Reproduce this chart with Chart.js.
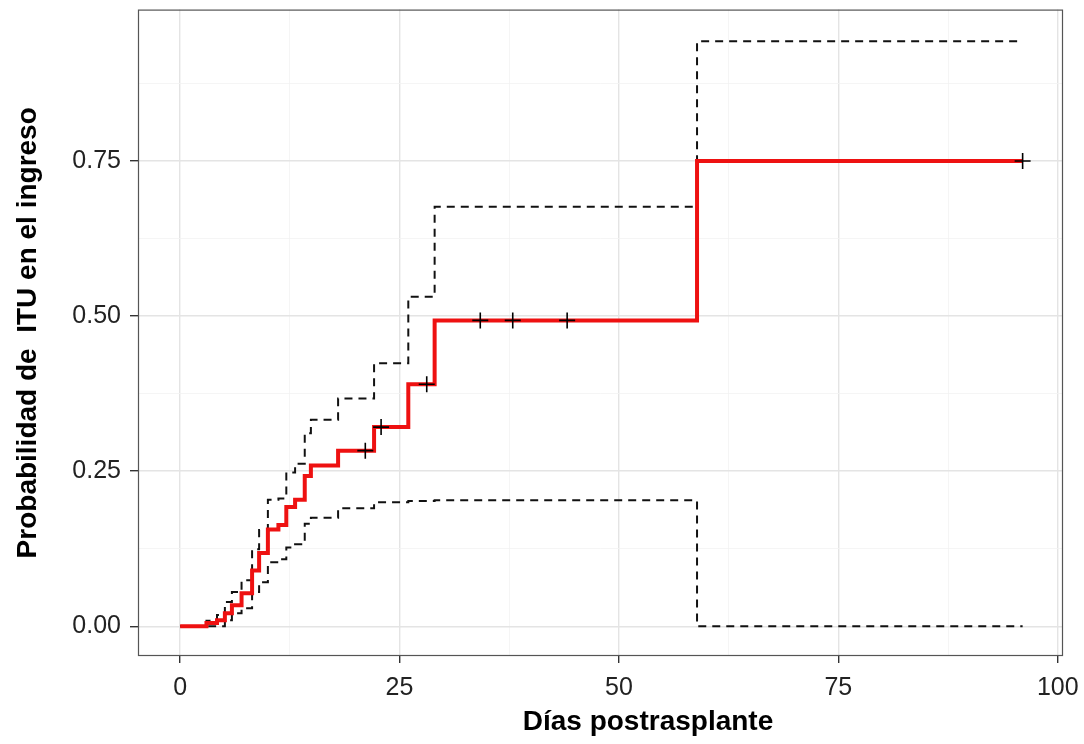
<!DOCTYPE html>
<html lang="es">
<head>
  <meta charset="UTF-8" />
  <title>Probabilidad de ITU en el ingreso</title>
  <script src="https://cdn.jsdelivr.net/npm/chart.js"></script>
  <style>
    body {
      margin: 0;
      background: #fff;
    }
    #grafico {
      width: 1084px;
      height: 744px;
    }
  </style>
</head>
<body>
  <div id="grafico">
    <canvas id="curva" width="1084" height="744"></canvas>
  </div>

  <script>
    // Kaplan-Meier (1 - S) con IC 95%: día del evento y valor tras el escalón
    const dias  = [0, 3.0, 4.2, 5.1, 5.9, 7.0, 8.2, 9.0, 10.0, 11.2, 12.1, 13.1, 14.2, 14.9, 18.0, 22.1, 26.0, 29.0, 58.9, 96];
    const prob  = [0, 0.005, 0.0097, 0.021, 0.034, 0.053, 0.090, 0.118, 0.156, 0.163, 0.192, 0.204, 0.242, 0.259, 0.283, 0.321, 0.390, 0.493, 0.750, 0.750];
    const icSup = [0, 0.009, 0.018, 0.039, 0.055, 0.074, 0.124, 0.155, 0.204, 0.206, 0.248, 0.262, 0.311, 0.333, 0.367, 0.424, 0.531, 0.676, 0.943, 0.943];
    const icInf = [0, 0, 0, 0.0097, 0.021, 0.029, 0.055, 0.071, 0.103, 0.108, 0.127, 0.132, 0.165, 0.175, 0.190, 0.200, 0.202, 0.203, 0, 0];

    // censuras
    const censDias = [21.1, 22.9, 28.1, 34.2, 37.9, 44.1, 96];
    const censProb = [0.283, 0.321, 0.390, 0.493, 0.493, 0.493, 0.750];

    const marcasX = [0, 12.5, 25, 37.5, 50, 62.5, 75, 87.5, 100];
    const marcasY = [0, 0.125, 0.25, 0.375, 0.5, 0.625, 0.75, 0.875];

    const tituloX = 'Días postrasplante';
    const tituloY = 'Probabilidad de  ITU en el ingreso';

    const puntos = (xs, ys) => xs.map((x, i) => ({ x: x, y: ys[i] }));
    const esMayorX = v => v % 25 === 0;
    const esMayorY = v => Math.abs(v * 4 - Math.round(v * 4)) < 1e-9;

    const fuente = '"Liberation Sans", Arial, Helvetica, sans-serif';

    // borde del panel y título del eje x
    const marco = {
      id: 'marco',
      afterDraw(chart) {
        const a = chart.chartArea;
        const ctx = chart.ctx;
        ctx.save();
        ctx.strokeStyle = '#555';
        ctx.lineWidth = 1.2;
        ctx.strokeRect(a.left + 0.5, a.top + 0.5, a.right - a.left - 1, a.bottom - a.top - 1);

        ctx.fillStyle = '#000';
        ctx.font = 'bold 28px ' + fuente;
        ctx.textAlign = 'center';
        ctx.textBaseline = 'middle';
        ctx.fillText(tituloX, 648, 722);
        ctx.restore();
      }
    };

    const discontinua = {
      showLine: true,
      stepped: true,
      borderColor: '#111',
      borderWidth: 2,
      borderDash: [8, 6],
      pointRadius: 0
    };

    new Chart(document.getElementById('curva'), {
      type: 'scatter',
      data: {
        datasets: [
          {
            label: 'Censura',
            data: puntos(censDias, censProb),
            pointStyle: 'cross',
            pointRadius: 8,
            borderColor: '#000',
            borderWidth: 1.6,
            showLine: false
          },
          {
            label: 'Probabilidad',
            data: puntos(dias, prob),
            showLine: true,
            stepped: true,
            borderColor: '#ee1111',
            borderWidth: 4,
            pointRadius: 0
          },
          Object.assign({ label: 'IC superior', data: puntos(dias, icSup) }, discontinua),
          Object.assign({ label: 'IC inferior', data: puntos(dias, icInf) }, discontinua)
        ]
      },
      options: {
        responsive: false,
        animation: false,
        layout: { padding: { top: 8, right: 21, left: 0, bottom: 0 } },
        plugins: {
          legend: { display: false },
          tooltip: { enabled: false }
        },
        scales: {
          x: {
            type: 'linear',
            min: -4.8,
            max: 100.6,
            afterBuildTicks: s => { s.ticks = marcasX.map(v => ({ value: v })); },
            afterFit: s => { s.height = 88; s.paddingLeft = 0; s.paddingRight = 0; },
            border: { display: false },
            grid: {
              color: c => esMayorX(c.tick.value) ? '#e4e4e4' : '#f2f2f2',
              lineWidth: c => esMayorX(c.tick.value) ? 1.4 : 0.8,
              tickColor: c => esMayorX(c.tick.value) ? '#333' : 'rgba(0,0,0,0)',
              tickLength: 7
            },
            ticks: {
              autoSkip: false,
              maxRotation: 0,
              padding: 10,
              color: '#222',
              font: { family: fuente, size: 25 },
              callback: v => esMayorX(v) ? String(v) : ''
            },
            title: { display: false }
          },
          y: {
            type: 'linear',
            min: -0.048,
            max: 0.994,
            afterBuildTicks: s => { s.ticks = marcasY.map(v => ({ value: v })); },
            afterFit: s => { s.width = 138; s.paddingTop = 0; s.paddingBottom = 0; },
            border: { display: false },
            grid: {
              color: c => esMayorY(c.tick.value) ? '#e4e4e4' : '#f2f2f2',
              lineWidth: c => esMayorY(c.tick.value) ? 1.4 : 0.8,
              tickColor: c => esMayorY(c.tick.value) ? '#333' : 'rgba(0,0,0,0)',
              tickLength: 8
            },
            ticks: {
              autoSkip: false,
              padding: 9,
              color: '#222',
              font: { family: fuente, size: 25 },
              callback: v => esMayorY(v) ? v.toFixed(2) : ''
            },
            title: {
              display: true,
              text: tituloY,
              color: '#000',
              padding: { top: 11, bottom: 0 },
              font: { family: fuente, size: 28, weight: 'bold' }
            }
          }
        }
      },
      plugins: [marco]
    });
  </script>
</body>
</html>
